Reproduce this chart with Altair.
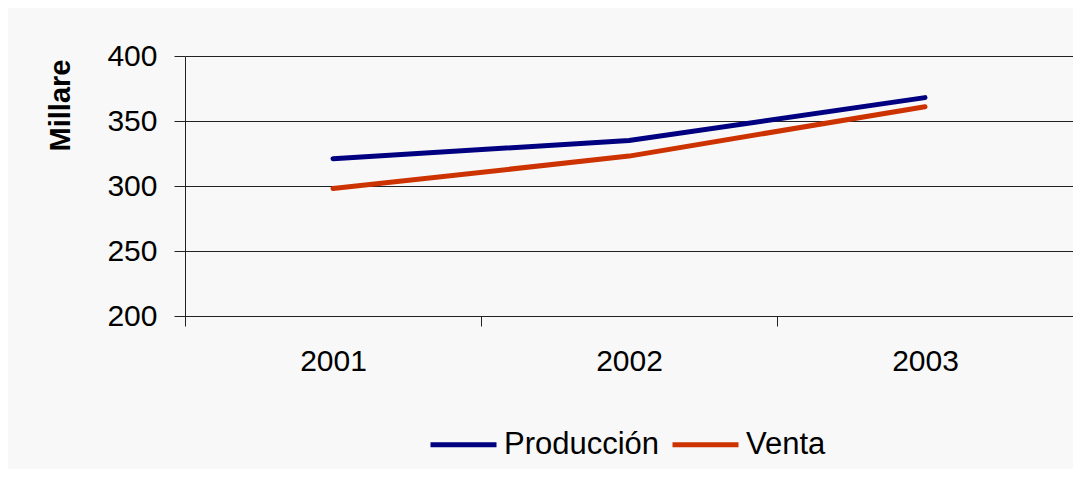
import altair as alt
import pandas as pd

years = ["2001", "2002", "2003"]
produccion = [321, 335, 368]
venta = [298, 323, 361]
series = ["Producción", "Venta"]
colors = ["#000080", "#cc3300"]
y_ticks = [200, 250, 300, 350, 400]

rows = []
for i, y in enumerate(years):
    rows.append({"Año": y, "Serie": series[0], "Valor": produccion[i]})
    rows.append({"Año": y, "Serie": series[1], "Valor": venta[i]})
df = pd.DataFrame(rows)

FONT = "Liberation Sans"

chart = alt.Chart(df).mark_line(strokeWidth=5, strokeCap="round", strokeJoin="round").encode(
    x=alt.X("Año:N", sort=years, title=None,
            scale=alt.Scale(paddingInner=0, paddingOuter=0),
            axis=alt.Axis(labelAngle=0, tickBand="extent", tickSize=10, tickColor="#222222",
                          domainColor="#222222", labelFontSize=30, labelFont=FONT,
                          labelColor="#000000", labelPadding=20, grid=False)),
    y=alt.Y("Valor:Q", title="Millare",
            scale=alt.Scale(domain=[200, 400], nice=False, zero=False),
            axis=alt.Axis(values=y_ticks, tickSize=11, tickColor="#222222",
                          domainColor="#222222", gridColor="#222222", gridOpacity=1,
                          labelFontSize=30, labelFont=FONT, labelColor="#000000",
                          labelPadding=17, titleFont=FONT, titleFontSize=29,
                          titleFontWeight="bold", titleColor="#000000",
                          titleAngle=270, titleAlign="center", titleBaseline="middle",
                          titleX=-125, titleY=49)),
    color=alt.Color("Serie:N", sort=series,
                    scale=alt.Scale(domain=series, range=colors),
                    legend=alt.Legend(title=None, orient="none", direction="horizontal",
                                      legendX=243, legendY=353,
                                      symbolType="stroke", symbolSize=4356,
                                      symbolStrokeWidth=5, labelFontSize=31,
                                      labelFont=FONT, labelColor="#000000",
                                      labelOffset=5, columnPadding=2)),
).properties(
    width=888, height=260,
    autosize=alt.AutoSizeParams(type="none"),
    padding={"left": 177, "top": 48, "right": 0, "bottom": 153},
    background="#f8f8f8",
).configure_view(stroke=None)

chart.save("out.html", embed_options={"renderer": "svg", "actions": False})
